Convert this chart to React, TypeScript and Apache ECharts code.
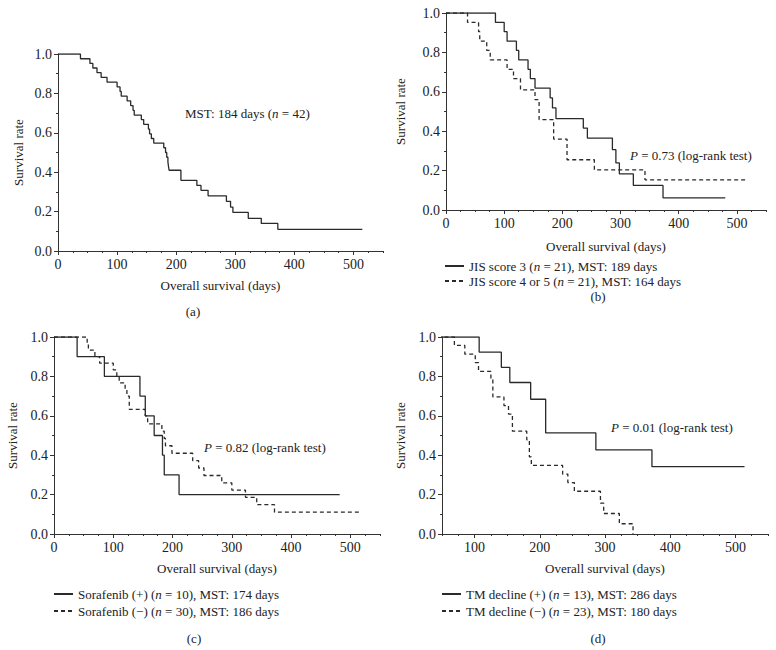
import React, { useEffect, useRef } from "react";
import * as echarts from "echarts";

// ---------- Data (days, survival rate) ----------
// (a) all patients
const aDays = [0, 38, 54, 59, 66, 73, 83, 100, 105, 107, 117, 123, 127, 129, 141, 145, 153, 155, 158, 162, 179, 182, 184, 186, 187, 188, 208, 235, 242, 254, 285, 292, 296, 322, 344, 372, 515];
const aSurv = [1.0, 0.976, 0.952, 0.929, 0.905, 0.881, 0.857, 0.833, 0.81, 0.786, 0.762, 0.738, 0.714, 0.69, 0.667, 0.643, 0.619, 0.595, 0.571, 0.548, 0.524, 0.5, 0.476, 0.452, 0.429, 0.41, 0.359, 0.333, 0.308, 0.28, 0.252, 0.223, 0.196, 0.166, 0.14, 0.11, 0.11];

// (b) JIS score
const bJis3Days = [0, 85, 100, 105, 121, 125, 141, 145, 153, 179, 183, 189, 236, 243, 286, 292, 298, 322, 373, 480];
const bJis3Surv = [1.0, 0.952, 0.905, 0.857, 0.81, 0.762, 0.714, 0.667, 0.619, 0.569, 0.518, 0.464, 0.416, 0.365, 0.306, 0.239, 0.183, 0.125, 0.062, 0.062];
const bJis45Days = [0, 37, 56, 58, 70, 76, 105, 116, 128, 153, 160, 185, 208, 255, 342, 517];
const bJis45Surv = [1.0, 0.952, 0.905, 0.857, 0.81, 0.762, 0.714, 0.667, 0.61, 0.56, 0.459, 0.36, 0.255, 0.204, 0.153, 0.153];

// (c) Sorafenib
const cSorPDays = [0, 39, 85, 145, 154, 169, 183, 186, 211, 482];
const cSorPSurv = [1.0, 0.9, 0.8, 0.7, 0.6, 0.5, 0.4, 0.3, 0.2, 0.2];
const cSorMDays = [0, 56, 58, 69, 77, 100, 106, 110, 120, 123, 127, 154, 158, 182, 186, 188, 199, 234, 244, 253, 283, 300, 323, 342, 372, 517];
const cSorMSurv = [1.0, 0.967, 0.933, 0.9, 0.867, 0.833, 0.8, 0.767, 0.733, 0.7, 0.633, 0.6, 0.559, 0.522, 0.485, 0.448, 0.41, 0.372, 0.335, 0.297, 0.26, 0.223, 0.186, 0.149, 0.111, 0.111];

// (d) TM decline
const dTmPDays = [0, 107, 141, 154, 186, 209, 286, 372, 514];
const dTmPSurv = [1.0, 0.923, 0.846, 0.769, 0.684, 0.513, 0.427, 0.342, 0.342];
const dTmMDays = [0, 69, 85, 101, 106, 125, 128, 145, 152, 158, 180, 184, 187, 235, 243, 253, 293, 298, 322, 343];
const dTmMSurv = [1.0, 0.957, 0.913, 0.87, 0.826, 0.783, 0.696, 0.652, 0.609, 0.522, 0.478, 0.391, 0.348, 0.304, 0.261, 0.217, 0.157, 0.104, 0.052, 0.0];

const xMajorFrom0 = [0, 100, 200, 300, 400, 500];
const xMajorFrom100 = [100, 200, 300, 400, 500];

const FONT = '"Liberation Serif", "Times New Roman", serif';
const INK = "#222";
const AXIS = "#333";
const CURVE = "#2a2a2a";

const zip = (xs: number[], ys: number[]) => xs.map((x, i) => [x, ys[i]]);

type Panel = { left: number; top: number; width: number; height: number; min: number; yGap: number; xGap: number };
const panels: Panel[] = [
  { left: 58, top: 54, width: 325, height: 197, min: 0, yGap: 33, xGap: 28 },
  { left: 446, top: 13, width: 320, height: 197, min: 0, yGap: 39, xGap: 30 },
  { left: 54, top: 337, width: 326, height: 197, min: 0, yGap: 35, xGap: 28 },
  { left: 442, top: 337, width: 326, height: 197, min: 50, yGap: 35, xGap: 28 },
];

const txt = { fontFamily: FONT, fontSize: 13, color: INK };
const tickTxt = { fontFamily: FONT, fontSize: 14, color: INK };

export default function App() {
  const ref = useRef<HTMLDivElement>(null);
  useEffect(() => {
    if (!ref.current) return;
    const chart = echarts.init(ref.current, undefined, { renderer: "svg" });

    const grids = panels.map((p) => ({ left: p.left, top: p.top, width: p.width, height: p.height, containLabel: false }));
    const xAxes: any[] = [];
    const yAxes: any[] = [];
    panels.forEach((p, i) => {
      const majors = p.min === 0 ? xMajorFrom0 : xMajorFrom100;
      xAxes.push({
        gridIndex: i,
        type: "value",
        position: "bottom",
        min: p.min,
        max: 550,
        interval: p.min === 0 ? 100 : 50,
        axisLine: { show: true, onZero: false, lineStyle: { color: AXIS, width: 1 } },
        axisTick: { show: true, length: 4, customValues: majors, lineStyle: { color: AXIS, width: 1 } },
        minorTick: { show: false },
        splitLine: { show: false },
        axisLabel: { ...tickTxt, margin: 6, customValues: majors },
        name: "Overall survival (days)",
        nameLocation: "middle",
        nameGap: p.xGap,
        nameTextStyle: { ...txt },
      });
      yAxes.push({
        gridIndex: i,
        type: "value",
        min: 0,
        max: 1,
        interval: 0.2,
        axisLine: { show: true, onZero: false, lineStyle: { color: AXIS, width: 1 } },
        axisTick: { show: true, length: 4, lineStyle: { color: AXIS, width: 1 } },
        minorTick: { show: true, splitNumber: 2, length: 2, lineStyle: { color: AXIS, width: 1 } },
        splitLine: { show: false },
        axisLabel: { ...tickTxt, margin: 6, formatter: (v: number) => v.toFixed(1) },
        name: "Survival rate",
        nameLocation: "middle",
        nameRotate: 90,
        nameGap: p.yGap,
        nameTextStyle: { ...txt },
      });
    });
    // minor tick overlay axes (every 25 days)
    panels.forEach((p, i) => {
      xAxes.push({
        gridIndex: i,
        type: "value",
        position: "bottom",
        min: p.min,
        max: 550,
        interval: 25,
        axisLine: { show: false, onZero: false },
        axisTick: { show: true, length: 2, lineStyle: { color: AXIS, width: 1 } },
        axisLabel: { show: false },
        splitLine: { show: false },
      });
    });

    const mk = (name: string, idx: number, days: number[], surv: number[], dashed: boolean) => ({
      name,
      type: "line",
      xAxisIndex: idx,
      yAxisIndex: idx,
      step: "end",
      symbol: "none",
      clip: true,
      data: zip(days, surv),
      lineStyle: { color: CURVE, width: 1.3, type: dashed ? [4, 3] : "solid" },
      itemStyle: { color: CURVE },
      emphasis: { disabled: true },
    });

    const nameB1 = "JIS score 3 (n = 21), MST: 189 days";
    const nameB2 = "JIS score 4 or 5 (n = 21), MST: 164 days";
    const nameC1 = "Sorafenib (+) (n = 10), MST: 174 days";
    const nameC2 = "Sorafenib (\u2212) (n = 30), MST: 186 days";
    const nameD1 = "TM decline (+) (n = 13), MST: 286 days";
    const nameD2 = "TM decline (\u2212) (n = 23), MST: 180 days";

    const series = [
      mk("All patients", 0, aDays, aSurv, false),
      mk(nameB2, 1, bJis45Days, bJis45Surv, true),
      mk(nameB1, 1, bJis3Days, bJis3Surv, false),
      mk(nameC2, 2, cSorMDays, cSorMSurv, true),
      mk(nameC1, 2, cSorPDays, cSorPSurv, false),
      mk(nameD2, 3, dTmMDays, dTmMSurv, true),
      mk(nameD1, 3, dTmPDays, dTmPSurv, false),
    ];

    const rich = { i: { fontFamily: FONT, fontSize: 13, fontStyle: "italic", color: INK } };
    const legendFmt = (name: string) => name.replace("(n =", "({i|n} =");
    const mkLegend = (left: number, top: number, data: string[], gap: number) => ({
      left,
      top,
      orient: "vertical",
      padding: 0,
      itemGap: gap,
      itemWidth: 19,
      itemHeight: 14,
      selectedMode: false,
      data,
      formatter: legendFmt,
      itemStyle: { opacity: 0, color: "transparent", borderWidth: 0 },
      textStyle: { ...txt, lineHeight: 14, rich },
    });

    const gtext = (x: number, y: number, text: string, align = "left") => ({
      type: "text",
      x,
      y,
      silent: true,
      style: {
        text,
        fontFamily: FONT,
        fontSize: 13,
        fill: INK,
        align,
        verticalAlign: "middle",
        rich: { i: { fontFamily: FONT, fontSize: 13, fontStyle: "italic", fill: INK } },
      },
    });

    chart.setOption({
      animation: false,
      backgroundColor: "#ffffff",
      grid: grids,
      xAxis: xAxes,
      yAxis: yAxes,
      series,
      legend: [
        mkLegend(444, 259, [nameB1, nameB2], 1),
        mkLegend(53, 587, [nameC1, nameC2], 3),
        mkLegend(441, 587, [nameD1, nameD2], 3),
      ],
      graphic: [
        gtext(185, 113, "MST: 184 days ({i|n} = 42)"),
        gtext(630, 155, "{i|P} = 0.73 (log-rank test)"),
        gtext(204, 447, "{i|P} = 0.82 (log-rank test)"),
        gtext(611, 427, "{i|P} = 0.01 (log-rank test)"),
        gtext(193, 311, "(a)", "center"),
        gtext(598, 296, "(b)", "center"),
        gtext(194, 638, "(c)", "center"),
        gtext(598, 638, "(d)", "center"),
      ],
    });
    return () => chart.dispose();
  }, []);
  return <div ref={ref} style={{ position: "absolute", left: 0, top: 0, width: 776, height: 650, background: "#fff" }} />;
}
